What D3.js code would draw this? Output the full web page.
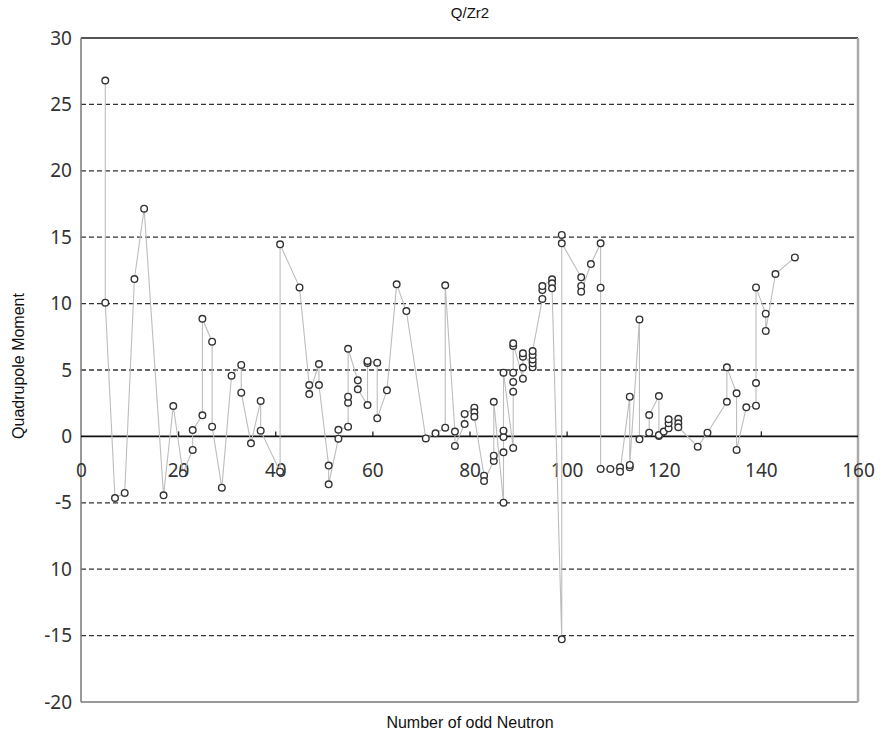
<!DOCTYPE html>
<html>
<head>
<meta charset="utf-8">
<script src="https://cdn.jsdelivr.net/npm/d3@7"></script>
<style>
  body { margin: 0; background: #fff; }
  .tick-label { font-family: "Noto Sans", "Liberation Sans", sans-serif; font-size: 19px; fill: #333; }
  .title { font-family: "Liberation Sans", Arial, sans-serif; fill: #111; }
</style>
</head>
<body>
<div id="vis"></div>
<script>
/* data: neutron number and quadrupole moment, in drawing order */
var neutron = [5, 5, 7, 9, 11, 13, 17, 19, 21, 23, 23, 25, 25, 27, 27, 29, 31, 33, 33, 35,
  37, 37, 41, 41, 45, 47, 47, 49, 49, 51, 51, 53, 53, 55, 55, 55, 55, 57, 57, 59,
  59, 59, 61, 61, 63, 65, 67, 71, 73, 75, 75, 77, 77, 79, 79, 81, 81, 81, 83, 83,
  85, 85, 85, 87, 87, 87, 87, 87, 89, 89, 89, 89, 89, 89, 91, 91, 91, 91, 93, 93,
  93, 93, 93, 95, 95, 95, 97, 97, 97, 99, 99, 99, 103, 103, 103, 105, 107, 107, 107, 109,
  111, 111, 113, 113, 113, 115, 115, 117, 117, 119, 119, 119, 120, 121, 121, 121, 123, 123, 123, 127,
  129, 133, 133, 135, 135, 137, 139, 139, 139, 141, 141, 143, 147];
var moment = [26.8, 10.07, -4.64, -4.26, 11.85, 17.15, -4.44, 2.29, -2.78, -1.02, 0.48, 1.59, 8.86, 7.13, 0.73, -3.86, 4.57, 5.38, 3.29, -0.52,
  2.67, 0.43, -2.66, 14.46, 11.22, 3.87, 3.19, 5.45, 3.87, -2.2, -3.61, -0.17, 0.5, 0.73, 2.54, 2.99, 6.6, 4.22, 3.55, 2.36,
  5.53, 5.68, 5.55, 1.36, 3.47, 11.45, 9.44, -0.15, 0.23, 0.66, 11.38, 0.36, -0.72, 0.93, 1.69, 2.16, 1.81, 1.48, -2.96, -3.36,
  -1.85, -1.45, 2.61, -4.99, -1.2, -0.05, 0.43, 4.8, -0.87, 3.37, 4.1, 4.8, 6.81, 7.01, 4.35, 5.18, 6.0, 6.26, 5.2, 5.5,
  5.8, 6.13, 6.43, 10.35, 11.02, 11.32, 11.83, 11.53, 11.15, -15.28, 15.17, 14.54, 11.98, 11.33, 10.9, 12.98, 14.54, 11.2, -2.45, -2.45,
  -2.33, -2.66, 2.99, -2.33, -2.15, 8.81, -0.22, 0.28, 1.61, 3.04, 0.03, 0.1, 0.36, 0.61, 0.99, 1.29, 1.33, 0.99, 0.69, -0.77,
  0.28, 2.61, 5.2, 3.24, -1.02, 2.19, 2.31, 4.02, 11.22, 9.24, 7.94, 12.23, 13.48];

var xTicks = [0, 20, 40, 60, 80, 100, 120, 140, 160];
var yTicks = [-20, -15, -10, -5, 0, 5, 10, 15, 20, 25, 30];
// the original prints "10" at -10
var yTickLabels = ["-20", "-15", "10", "-5", "0", "5", "10", "15", "20", "25", "30"];
var gridValues = [-15, -10, -5, 5, 10, 15, 20, 25];

var W = 882, H = 738;
var plot = { left: 81, right: 858, top: 38, bottom: 702 };

var svg = d3.select('#vis').append('svg').attr('width', W).attr('height', H);

var xScale = d3.scaleLinear().domain([0, 160]).range([plot.left, plot.right]);
var yScale = d3.scaleLinear().domain([-20, 30]).range([plot.bottom, plot.top]);

/* dashed grid */
svg.append('g').selectAll('line')
  .data(gridValues).enter().append('line')
  .attr('x1', plot.left).attr('x2', plot.right)
  .attr('y1', function (d) { return yScale(d); })
  .attr('y2', function (d) { return yScale(d); })
  .attr('stroke', '#333').attr('stroke-width', 1.3)
  .attr('stroke-dasharray', '5,3');

/* frame */
svg.append('line').attr('x1', plot.left).attr('x2', plot.right).attr('y1', plot.top).attr('y2', plot.top)
  .attr('stroke', '#555').attr('stroke-width', 2);
svg.append('line').attr('x1', plot.left).attr('x2', plot.right).attr('y1', plot.bottom).attr('y2', plot.bottom)
  .attr('stroke', '#999').attr('stroke-width', 2);
svg.append('line').attr('x1', plot.right).attr('x2', plot.right).attr('y1', plot.top).attr('y2', plot.bottom)
  .attr('stroke', '#aaa').attr('stroke-width', 2.5);
svg.append('line').attr('x1', plot.left).attr('x2', plot.left).attr('y1', plot.top).attr('y2', plot.bottom)
  .attr('stroke', '#777').attr('stroke-width', 1.5);

/* y axis labels */
var yAxis = d3.axisLeft(yScale).tickValues(yTicks).tickSize(0).tickPadding(9)
  .tickFormat(function (d, i) { return yTickLabels[i]; });
var yAxisDraw = svg.append('g').attr('transform', 'translate(' + plot.left + ',0)').call(yAxis);
yAxisDraw.select('.domain').remove();
yAxisDraw.selectAll('text').attr('class', 'tick-label').attr('fill', null).attr('font-size', null).attr('font-family', null);

/* x axis along zero, ticks point up, labels below */
var xAxis = d3.axisTop(xScale).tickValues(xTicks).tickSize(5).tickFormat(d3.format('d'));
var xAxisDraw = svg.append('g').attr('transform', 'translate(0,' + yScale(0) + ')').call(xAxis);
xAxisDraw.select('.domain').remove();
xAxisDraw.selectAll('.tick line').attr('stroke', '#222').attr('stroke-width', 1.3);
xAxisDraw.selectAll('.tick').filter(function (d) { return d === 0 || d === 160; }).select('line').remove();
xAxisDraw.selectAll('text').attr('class', 'tick-label').attr('fill', null).attr('font-size', null).attr('font-family', null)
  .attr('y', 41);
svg.append('line').attr('x1', plot.left).attr('x2', plot.right)
  .attr('y1', yScale(0)).attr('y2', yScale(0))
  .attr('stroke', '#111').attr('stroke-width', 1.6);

/* series line */
var pts = neutron.map(function (n, i) { return { n: n, q: moment[i] }; });
var line = d3.line().x(function (d) { return xScale(d.n); }).y(function (d) { return yScale(d.q); });
svg.append('path').datum(pts).attr('d', line)
  .attr('fill', 'none').attr('stroke', '#bdbdbd').attr('stroke-width', 1.1);

/* markers */
svg.append('g').selectAll('circle')
  .data(pts).enter().append('circle')
  .attr('cx', function (d) { return xScale(d.n); })
  .attr('cy', function (d) { return yScale(d.q); })
  .attr('r', 3.3)
  .attr('fill', '#fff').attr('stroke', '#333').attr('stroke-width', 1.4);

/* titles */
svg.append('text').attr('class', 'title').attr('x', 470).attr('y', 18)
  .attr('text-anchor', 'middle').attr('font-size', 15).text('Q/Zr2');
svg.append('text').attr('class', 'title').attr('x', 470).attr('y', 728)
  .attr('text-anchor', 'middle').attr('font-size', 16).text('Number of odd Neutron');
svg.append('text').attr('class', 'title')
  .attr('transform', 'translate(24,' + 366 + ') rotate(-90)')
  .attr('text-anchor', 'middle').attr('font-size', 16).text('Quadrupole Moment');
</script>
</body>
</html>
